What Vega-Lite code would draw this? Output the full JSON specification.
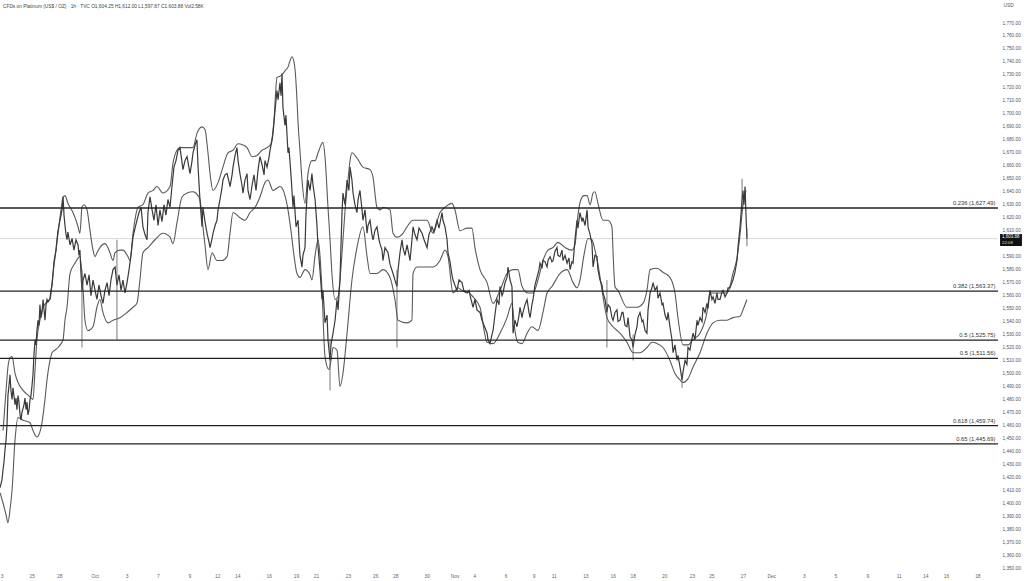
{
"$schema":"https://vega.github.io/schema/vega-lite/v6.json",
"width":998,"height":570,
"autosize":{"type":"none"},
"padding":{"left":0,"top":0,"right":26,"bottom":11},
"background":"#ffffff",
"config":{"view":{"stroke":null},"font":"Liberation Sans","axis":{"labelOverlap":false,"labelSeparation":0}},
"title":{"text":"CFDs on Platinum (US$ / OZ) · 1h · TVC  O1,604.25  H1,612.00  L1,597.87  C1,603.88  Vol2.58K","anchor":"start","frame":"group","orient":"top","offset":-9,"dx":3,"fontSize":4.8,"fontWeight":"normal","color":"#444","font":"Liberation Sans"},
"datasets":{
"price":[
{"d":-5.90,"v":1412},{"d":-5.78,"v":1418},{"d":-5.71,"v":1426},{"d":-5.65,"v":1432},{"d":-5.59,"v":1441},{"d":-5.52,"v":1449},{"d":-5.46,"v":1460},{"d":-5.40,"v":1483},{"d":-5.33,"v":1491},{"d":-5.27,"v":1499},{"d":-5.21,"v":1487},{"d":-5.14,"v":1480},{"d":-5.08,"v":1489},{"d":-5.02,"v":1483},{"d":-4.95,"v":1476},{"d":-4.89,"v":1481},{"d":-4.83,"v":1472},{"d":-4.76,"v":1483},{"d":-4.70,"v":1478},{"d":-4.63,"v":1468},{"d":-4.57,"v":1464},{"d":-4.51,"v":1470},{"d":-4.38,"v":1476},{"d":-4.32,"v":1481},{"d":-4.25,"v":1472},{"d":-4.19,"v":1478},{"d":-4.13,"v":1468},{"d":-4.06,"v":1472},{"d":-4.00,"v":1480},{"d":-3.94,"v":1483},{"d":-3.87,"v":1491},{"d":-3.81,"v":1499},{"d":-3.75,"v":1514},{"d":-3.68,"v":1526},{"d":-3.62,"v":1522},{"d":-3.56,"v":1533},{"d":-3.49,"v":1541},{"d":-3.43,"v":1537},{"d":-3.37,"v":1553},{"d":-3.30,"v":1543},{"d":-3.24,"v":1547},{"d":-3.17,"v":1557},{"d":-3.11,"v":1549},{"d":-3.05,"v":1541},{"d":-2.98,"v":1553},{"d":-2.92,"v":1557},{"d":-2.86,"v":1555},{"d":-2.73,"v":1558},{"d":-2.67,"v":1564},{"d":-2.60,"v":1568},{"d":-2.54,"v":1576},{"d":-2.48,"v":1586},{"d":-2.41,"v":1591},{"d":-2.35,"v":1595},{"d":-2.29,"v":1603},{"d":-2.22,"v":1610},{"d":-2.16,"v":1614},{"d":-2.10,"v":1618},{"d":-2.03,"v":1622},{"d":-1.97,"v":1626},{"d":-1.90,"v":1636},{"d":-1.84,"v":1622},{"d":-1.78,"v":1614},{"d":-1.71,"v":1607},{"d":-1.65,"v":1603},{"d":-1.59,"v":1609},{"d":-1.46,"v":1599},{"d":-1.33,"v":1604},{"d":-1.21,"v":1595},{"d":-1.08,"v":1603},{"d":-0.95,"v":1599},{"d":-0.89,"v":1591},{"d":-0.83,"v":1595},{"d":-0.76,"v":1576},{"d":-0.70,"v":1564},{"d":-0.63,"v":1572},
{"d":-0.51,"v":1577},{"d":-0.38,"v":1568},{"d":-0.25,"v":1576},{"d":-0.13,"v":1560},{"d":0.00,"v":1572},{"d":0.13,"v":1564},{"d":0.25,"v":1557},{"d":0.38,"v":1568},{"d":0.51,"v":1560},{"d":0.63,"v":1554},{"d":0.76,"v":1564},{"d":0.89,"v":1570},{"d":1.02,"v":1560},{"d":1.14,"v":1572},{"d":1.27,"v":1580},{"d":1.40,"v":1582},{"d":1.52,"v":1568},{"d":1.65,"v":1576},{"d":1.78,"v":1564},{"d":1.90,"v":1572},{"d":2.03,"v":1562},{"d":2.16,"v":1570},{"d":2.29,"v":1580},{"d":2.41,"v":1591},{"d":2.54,"v":1605},{"d":2.67,"v":1612},{"d":2.79,"v":1618},{"d":2.92,"v":1624},{"d":3.05,"v":1628},{"d":3.17,"v":1613},{"d":3.30,"v":1607},{"d":3.43,"v":1603},{"d":3.49,"v":1624},{"d":3.62,"v":1636},{"d":3.75,"v":1626},{"d":3.87,"v":1618},{"d":4.00,"v":1630},{"d":4.13,"v":1614},{"d":4.25,"v":1626},{"d":4.38,"v":1617},{"d":4.51,"v":1630},{"d":4.63,"v":1622},{"d":4.76,"v":1634},{"d":4.89,"v":1628},{"d":5.02,"v":1645},{"d":5.14,"v":1659},{"d":5.27,"v":1664},{"d":5.40,"v":1672},{"d":5.52,"v":1674},{"d":5.65,"v":1663},{"d":5.71,"v":1657},{"d":5.84,"v":1664},{"d":5.97,"v":1667},{"d":6.10,"v":1658},{"d":6.16,"v":1654},{"d":6.29,"v":1664},{"d":6.35,"v":1670},{"d":6.48,"v":1676},{"d":6.60,"v":1680},{"d":6.67,"v":1659},{"d":6.79,"v":1634},{"d":6.92,"v":1613},{"d":6.98,"v":1628},{"d":7.11,"v":1617},{"d":7.24,"v":1608},{"d":7.37,"v":1601},{"d":7.43,"v":1597},{"d":7.56,"v":1604},{"d":7.62,"v":1608},{"d":7.75,"v":1614},{"d":7.87,"v":1618},{"d":7.94,"v":1626},{"d":8.06,"v":1634},{"d":8.19,"v":1643},{"d":8.25,"v":1649},{"d":8.38,"v":1653},{"d":8.51,"v":1654},{"d":8.63,"v":1648},{"d":8.70,"v":1644},{"d":8.83,"v":1653},{"d":8.89,"v":1659},{"d":9.02,"v":1668},{"d":9.14,"v":1674},{"d":9.21,"v":1664},{"d":9.33,"v":1654},{"d":9.46,"v":1645},{"d":9.52,"v":1639},{"d":9.65,"v":1649},{"d":9.78,"v":1654},{"d":9.84,"v":1641},{"d":9.97,"v":1634},
{"d":10.10,"v":1645},{"d":10.22,"v":1653},{"d":10.35,"v":1641},{"d":10.48,"v":1657},{"d":10.60,"v":1667},{"d":10.73,"v":1661},{"d":10.86,"v":1653},{"d":10.92,"v":1664},{"d":11.05,"v":1659},{"d":11.17,"v":1666},{"d":11.24,"v":1672},{"d":11.37,"v":1680},{"d":11.43,"v":1685},{"d":11.56,"v":1703},{"d":11.68,"v":1718},{"d":11.75,"v":1711},{"d":11.87,"v":1724},{"d":11.94,"v":1714},{"d":12.00,"v":1731},{"d":12.06,"v":1705},{"d":12.19,"v":1691},{"d":12.25,"v":1699},{"d":12.38,"v":1670},{"d":12.44,"v":1674},{"d":12.57,"v":1653},{"d":12.70,"v":1628},{"d":12.76,"v":1637},{"d":12.89,"v":1613},{"d":13.02,"v":1618},{"d":13.08,"v":1603},{"d":13.14,"v":1591},{"d":13.27,"v":1582},{"d":13.33,"v":1591},{"d":13.46,"v":1597},{"d":13.52,"v":1622},{"d":13.65,"v":1649},{"d":13.78,"v":1641},{"d":13.90,"v":1654},{"d":13.97,"v":1645},{"d":14.10,"v":1634},{"d":14.22,"v":1614},{"d":14.29,"v":1597},{"d":14.41,"v":1580},{"d":14.54,"v":1557},{"d":14.60,"v":1564},{"d":14.73,"v":1539},{"d":14.86,"v":1545},{"d":14.92,"v":1526},{"d":15.05,"v":1510},{"d":15.11,"v":1522},{"d":15.24,"v":1531},{"d":15.37,"v":1541},{"d":15.49,"v":1557},{"d":15.56,"v":1549},{"d":15.68,"v":1572},{"d":15.81,"v":1624},{"d":15.87,"v":1639},{"d":16.00,"v":1630},{"d":16.13,"v":1649},{"d":16.25,"v":1641},{"d":16.32,"v":1659},{"d":16.44,"v":1649},{"d":16.51,"v":1639},{"d":16.63,"v":1630},{"d":16.76,"v":1624},{"d":16.83,"v":1634},{"d":16.95,"v":1641},{"d":17.08,"v":1626},{"d":17.14,"v":1618},{"d":17.27,"v":1626},{"d":17.40,"v":1608},{"d":17.46,"v":1614},{"d":17.59,"v":1618},{"d":17.71,"v":1607},{"d":17.78,"v":1603},{"d":17.90,"v":1610},{"d":18.03,"v":1613},{"d":18.16,"v":1603},{"d":18.22,"v":1600},{"d":18.35,"v":1595},{"d":18.41,"v":1587},{"d":18.54,"v":1597},{"d":18.73,"v":1593},{"d":18.86,"v":1584},{"d":19.05,"v":1577},{"d":19.17,"v":1572},{"d":19.30,"v":1567},{"d":19.37,"v":1580},{"d":19.49,"v":1593},{"d":19.62,"v":1603},{"d":19.68,"v":1597},{"d":19.81,"v":1591},{"d":19.94,"v":1599},
{"d":20.13,"v":1587},{"d":20.25,"v":1603},{"d":20.32,"v":1613},{"d":20.44,"v":1607},{"d":20.57,"v":1603},{"d":20.70,"v":1612},{"d":20.89,"v":1608},{"d":21.02,"v":1603},{"d":21.21,"v":1597},{"d":21.33,"v":1607},{"d":21.52,"v":1613},{"d":21.65,"v":1609},{"d":21.84,"v":1618},{"d":21.97,"v":1612},{"d":22.16,"v":1624},{"d":22.22,"v":1618},{"d":22.35,"v":1613},{"d":22.48,"v":1603},{"d":22.54,"v":1593},{"d":22.67,"v":1586},{"d":22.79,"v":1576},{"d":22.86,"v":1572},{"d":22.98,"v":1568},{"d":23.11,"v":1564},{"d":23.24,"v":1572},{"d":23.43,"v":1570},{"d":23.56,"v":1563},{"d":23.75,"v":1562},{"d":23.87,"v":1564},{"d":24.00,"v":1557},{"d":24.13,"v":1551},{"d":24.25,"v":1557},{"d":24.38,"v":1549},{"d":24.57,"v":1547},{"d":24.70,"v":1541},{"d":24.83,"v":1537},{"d":25.02,"v":1531},{"d":25.08,"v":1526},{"d":25.21,"v":1523},{"d":25.33,"v":1530},{"d":25.40,"v":1533},{"d":25.52,"v":1545},{"d":25.65,"v":1557},{"d":25.78,"v":1553},{"d":25.84,"v":1567},{"d":25.97,"v":1560},{"d":26.03,"v":1562},{"d":26.16,"v":1570},{"d":26.29,"v":1574},{"d":26.35,"v":1582},{"d":26.48,"v":1572},{"d":26.60,"v":1567},{"d":26.67,"v":1531},{"d":26.79,"v":1541},{"d":26.92,"v":1536},{"d":27.05,"v":1545},{"d":27.11,"v":1551},{"d":27.24,"v":1543},{"d":27.30,"v":1547},{"d":27.43,"v":1553},{"d":27.56,"v":1557},{"d":27.68,"v":1547},{"d":27.75,"v":1543},{"d":27.87,"v":1553},{"d":27.94,"v":1557},{"d":28.06,"v":1568},{"d":28.19,"v":1574},{"d":28.32,"v":1580},{"d":28.38,"v":1585},{"d":28.51,"v":1581},{"d":28.57,"v":1587},{"d":28.70,"v":1586},{"d":28.83,"v":1582},{"d":28.89,"v":1587},{"d":29.02,"v":1590},{"d":29.14,"v":1586},{"d":29.21,"v":1587},{"d":29.33,"v":1594},{"d":29.46,"v":1597},{"d":29.52,"v":1591},{"d":29.65,"v":1590},{"d":29.78,"v":1595},{"d":29.84,"v":1587},{"d":29.97,"v":1591},
{"d":30.10,"v":1585},{"d":30.22,"v":1589},{"d":30.29,"v":1580},{"d":30.41,"v":1586},{"d":30.48,"v":1585},{"d":30.60,"v":1603},{"d":30.73,"v":1618},{"d":30.79,"v":1612},{"d":30.92,"v":1624},{"d":31.05,"v":1617},{"d":31.11,"v":1620},{"d":31.24,"v":1614},{"d":31.37,"v":1626},{"d":31.43,"v":1613},{"d":31.56,"v":1607},{"d":31.68,"v":1600},{"d":31.75,"v":1582},{"d":31.87,"v":1591},{"d":32.00,"v":1590},{"d":32.06,"v":1580},{"d":32.19,"v":1572},{"d":32.32,"v":1568},{"d":32.38,"v":1562},{"d":32.51,"v":1557},{"d":32.63,"v":1547},{"d":32.70,"v":1553},{"d":32.83,"v":1551},{"d":32.95,"v":1543},{"d":33.02,"v":1541},{"d":33.14,"v":1547},{"d":33.27,"v":1549},{"d":33.33,"v":1540},{"d":33.46,"v":1541},{"d":33.59,"v":1547},{"d":33.65,"v":1547},{"d":33.78,"v":1537},{"d":33.90,"v":1536},{"d":33.97,"v":1543},{"d":34.10,"v":1528},{"d":34.22,"v":1526},{"d":34.29,"v":1520},{"d":34.41,"v":1530},{"d":34.54,"v":1536},{"d":34.60,"v":1543},{"d":34.73,"v":1547},{"d":34.86,"v":1540},{"d":34.92,"v":1541},{"d":35.05,"v":1533},{"d":35.17,"v":1531},{"d":35.24,"v":1549},{"d":35.37,"v":1562},{"d":35.49,"v":1566},{"d":35.56,"v":1570},{"d":35.68,"v":1564},{"d":35.81,"v":1567},{"d":35.87,"v":1558},{"d":36.00,"v":1562},{"d":36.13,"v":1553},{"d":36.19,"v":1554},{"d":36.32,"v":1545},{"d":36.44,"v":1541},{"d":36.51,"v":1547},{"d":36.63,"v":1536},{"d":36.76,"v":1526},{"d":36.83,"v":1516},{"d":36.95,"v":1522},{"d":37.08,"v":1510},{"d":37.14,"v":1514},{"d":37.27,"v":1505},{"d":37.40,"v":1495},{"d":37.46,"v":1501},{"d":37.59,"v":1510},{"d":37.71,"v":1507},{"d":37.78,"v":1520},{"d":37.90,"v":1518},{"d":38.03,"v":1527},{"d":38.10,"v":1531},{"d":38.22,"v":1526},{"d":38.35,"v":1541},{"d":38.41,"v":1537},{"d":38.54,"v":1543},{"d":38.67,"v":1540},{"d":38.73,"v":1551},{"d":38.86,"v":1547},{"d":38.98,"v":1554},{"d":39.05,"v":1550},{"d":39.17,"v":1564},{"d":39.30,"v":1557},{"d":39.37,"v":1559},{"d":39.49,"v":1554},{"d":39.62,"v":1562},{"d":39.68,"v":1557},{"d":39.81,"v":1557},{"d":39.94,"v":1563},{"d":40.00,"v":1564},{"d":40.13,"v":1559},{"d":40.25,"v":1562},{"d":40.32,"v":1566},{"d":40.44,"v":1566},{"d":40.57,"v":1570},{"d":40.63,"v":1572},{"d":40.76,"v":1578},{"d":40.89,"v":1587},{"d":40.95,"v":1597},{"d":41.08,"v":1613},{"d":41.14,"v":1622},{"d":41.21,"v":1634},{"d":41.27,"v":1641},{"d":41.33,"v":1630},{"d":41.40,"v":1644},{"d":41.46,"v":1622},{"d":41.52,"v":1603.88}
],
"bands":[
{"s":"u","d":-5.71,"v":1456},{"s":"u","d":-5.52,"v":1487},{"s":"u","d":-5.40,"v":1505},{"s":"u","d":-5.27,"v":1512},{"s":"u","d":-5.14,"v":1513},{"s":"u","d":-4.95,"v":1500},{"s":"u","d":-4.76,"v":1493},{"s":"u","d":-4.44,"v":1487},{"s":"u","d":-4.00,"v":1482},{"s":"u","d":-3.81,"v":1480},{"s":"u","d":-3.68,"v":1503},{"s":"u","d":-3.56,"v":1526},{"s":"u","d":-3.37,"v":1541},{"s":"u","d":-3.17,"v":1551},{"s":"u","d":-2.92,"v":1555},{"s":"u","d":-2.73,"v":1557},{"s":"u","d":-2.54,"v":1577},{"s":"u","d":-2.35,"v":1595},{"s":"u","d":-2.22,"v":1608},{"s":"u","d":-2.03,"v":1626},{"s":"u","d":-1.90,"v":1636},{"s":"u","d":-1.78,"v":1637},{"s":"u","d":-1.59,"v":1631},{"s":"u","d":-1.27,"v":1624},{"s":"u","d":-0.95,"v":1613},{"s":"u","d":-0.83,"v":1608},{"s":"u","d":-0.70,"v":1628},{"s":"u","d":-0.57,"v":1630},{"s":"u","d":-0.38,"v":1626},{"s":"u","d":-0.19,"v":1610},{"s":"u","d":0.00,"v":1595},{"s":"u","d":0.13,"v":1590},{"s":"u","d":0.25,"v":1593},{"s":"u","d":0.44,"v":1597},{"s":"u","d":0.76,"v":1600},{"s":"u","d":1.08,"v":1593},{"s":"u","d":1.27,"v":1587},{"s":"u","d":1.40,"v":1593},{"s":"u","d":1.71,"v":1595},{"s":"u","d":1.90,"v":1595},{"s":"u","d":2.22,"v":1590},{"s":"u","d":2.35,"v":1587},{"s":"u","d":2.54,"v":1608},{"s":"u","d":2.86,"v":1628},{"s":"u","d":3.17,"v":1630},{"s":"u","d":3.49,"v":1639},{"s":"u","d":3.81,"v":1641},{"s":"u","d":4.06,"v":1644},{"s":"u","d":4.44,"v":1639},{"s":"u","d":4.89,"v":1644},{"s":"u","d":5.08,"v":1662},{"s":"u","d":5.33,"v":1672},{"s":"u","d":5.52,"v":1674},{"s":"u","d":5.97,"v":1674},{"s":"u","d":6.35,"v":1674},{"s":"u","d":6.60,"v":1685},{"s":"u","d":6.92,"v":1690},{"s":"u","d":7.11,"v":1688},{"s":"u","d":7.30,"v":1670},{"s":"u","d":7.43,"v":1654},{"s":"u","d":7.62,"v":1641},{"s":"u","d":7.94,"v":1647},{"s":"u","d":8.25,"v":1659},{"s":"u","d":8.57,"v":1670},{"s":"u","d":8.89,"v":1672},{"s":"u","d":9.21,"v":1677},{"s":"u","d":9.52,"v":1676},{"s":"u","d":9.78,"v":1674},{"s":"u","d":10.10,"v":1667},{"s":"u","d":10.41,"v":1668},{"s":"u","d":10.73,"v":1672},{"s":"u","d":11.05,"v":1674},{"s":"u","d":11.30,"v":1677},{"s":"u","d":11.49,"v":1695},{"s":"u","d":11.68,"v":1728},{"s":"u","d":11.87,"v":1729},{"s":"u","d":12.06,"v":1731},{"s":"u","d":12.25,"v":1734},{"s":"u","d":12.38,"v":1736},{"s":"u","d":12.51,"v":1741},{"s":"u","d":12.63,"v":1744},{"s":"u","d":12.76,"v":1740},{"s":"u","d":12.83,"v":1734},{"s":"u","d":12.95,"v":1711},{"s":"u","d":13.02,"v":1693},{"s":"u","d":13.14,"v":1672},{"s":"u","d":13.27,"v":1649},{"s":"u","d":13.46,"v":1631},{"s":"u","d":13.65,"v":1654},{"s":"u","d":13.90,"v":1664},{"s":"u","d":14.10,"v":1664},{"s":"u","d":14.29,"v":1670},{"s":"u","d":14.48,"v":1676},{"s":"u","d":14.60,"v":1678},{"s":"u","d":14.73,"v":1667},{"s":"u","d":14.92,"v":1628},{"s":"u","d":15.05,"v":1603},{"s":"u","d":15.17,"v":1577},{"s":"u","d":15.37,"v":1557},{"s":"u","d":15.56,"v":1559},{"s":"u","d":15.68,"v":1572},{"s":"u","d":15.87,"v":1603},{"s":"u","d":16.06,"v":1634},{"s":"u","d":16.19,"v":1649},{"s":"u","d":16.32,"v":1664},{"s":"u","d":16.44,"v":1670},{"s":"u","d":16.76,"v":1666},{"s":"u","d":17.14,"v":1659},{"s":"u","d":17.59,"v":1657},{"s":"u","d":17.78,"v":1651},{"s":"u","d":18.03,"v":1628},{"s":"u","d":18.22,"v":1626},{"s":"u","d":18.41,"v":1628},{"s":"u","d":18.86,"v":1626},{"s":"u","d":19.05,"v":1608},{"s":"u","d":19.30,"v":1605},{"s":"u","d":19.68,"v":1608},{"s":"u","d":19.94,"v":1613},{"s":"u","d":20.32,"v":1618},{"s":"u","d":21.21,"v":1618},{"s":"u","d":21.59,"v":1608},{"s":"u","d":22.03,"v":1624},{"s":"u","d":22.35,"v":1628},{"s":"u","d":22.79,"v":1631},{"s":"u","d":22.98,"v":1626},{"s":"u","d":23.30,"v":1610},{"s":"u","d":23.75,"v":1612},{"s":"u","d":24.06,"v":1612},{"s":"u","d":24.25,"v":1597},{"s":"u","d":24.57,"v":1580},{"s":"u","d":25.02,"v":1570},{"s":"u","d":25.40,"v":1554},{"s":"u","d":25.84,"v":1564},{"s":"u","d":26.29,"v":1577},{"s":"u","d":26.67,"v":1580},{"s":"u","d":26.98,"v":1580},{"s":"u","d":27.24,"v":1567},{"s":"u","d":27.62,"v":1562},{"s":"u","d":27.94,"v":1562},{"s":"u","d":28.25,"v":1572},{"s":"u","d":28.57,"v":1587},{"s":"u","d":28.89,"v":1595},{"s":"u","d":29.21,"v":1597},{"s":"u","d":29.52,"v":1601},{"s":"u","d":29.97,"v":1597},{"s":"u","d":30.41,"v":1595},{"s":"u","d":30.60,"v":1599},{"s":"u","d":30.79,"v":1622},{"s":"u","d":30.98,"v":1634},{"s":"u","d":31.17,"v":1637},{"s":"u","d":31.37,"v":1637},{"s":"u","d":31.56,"v":1630},{"s":"u","d":31.75,"v":1639},{"s":"u","d":31.87,"v":1640},{"s":"u","d":32.06,"v":1631},{"s":"u","d":32.38,"v":1618},{"s":"u","d":32.70,"v":1618},{"s":"u","d":32.95,"v":1613},{"s":"u","d":33.02,"v":1593},{"s":"u","d":33.14,"v":1567},{"s":"u","d":33.33,"v":1564},{"s":"u","d":33.90,"v":1551},{"s":"u","d":34.54,"v":1551},{"s":"u","d":34.92,"v":1554},{"s":"u","d":35.17,"v":1564},{"s":"u","d":35.37,"v":1580},{"s":"u","d":35.81,"v":1581},{"s":"u","d":36.19,"v":1578},{"s":"u","d":36.63,"v":1574},{"s":"u","d":36.95,"v":1562},{"s":"u","d":37.14,"v":1543},{"s":"u","d":37.46,"v":1522},{"s":"u","d":37.78,"v":1522},{"s":"u","d":38.10,"v":1526},{"s":"u","d":38.54,"v":1531},{"s":"u","d":38.98,"v":1547},{"s":"u","d":39.17,"v":1562},{"s":"u","d":39.81,"v":1562},{"s":"u","d":40.25,"v":1562},{"s":"u","d":40.44,"v":1567},{"s":"u","d":40.63,"v":1577},{"s":"u","d":40.89,"v":1589},{"s":"u","d":41.08,"v":1607},{"s":"u","d":41.27,"v":1630},{"s":"u","d":41.46,"v":1641},
{"s":"l","d":-5.90,"v":1408},{"s":"l","d":-5.71,"v":1400},{"s":"l","d":-5.52,"v":1391},{"s":"l","d":-5.40,"v":1385},{"s":"l","d":-5.27,"v":1395},{"s":"l","d":-5.14,"v":1410},{"s":"l","d":-4.95,"v":1449},{"s":"l","d":-4.76,"v":1466},{"s":"l","d":-4.44,"v":1464},{"s":"l","d":-4.00,"v":1462},{"s":"l","d":-3.81,"v":1456},{"s":"l","d":-3.56,"v":1451},{"s":"l","d":-3.37,"v":1455},{"s":"l","d":-3.24,"v":1462},{"s":"l","d":-3.05,"v":1480},{"s":"l","d":-2.92,"v":1495},{"s":"l","d":-2.73,"v":1510},{"s":"l","d":-2.60,"v":1516},{"s":"l","d":-2.41,"v":1518},{"s":"l","d":-2.22,"v":1520},{"s":"l","d":-2.03,"v":1523},{"s":"l","d":-1.90,"v":1526},{"s":"l","d":-1.78,"v":1541},{"s":"l","d":-1.65,"v":1551},{"s":"l","d":-1.46,"v":1577},{"s":"l","d":-1.14,"v":1585},{"s":"l","d":-0.83,"v":1590},{"s":"l","d":-0.63,"v":1564},{"s":"l","d":-0.51,"v":1541},{"s":"l","d":-0.32,"v":1533},{"s":"l","d":0.00,"v":1536},{"s":"l","d":0.25,"v":1551},{"s":"l","d":0.44,"v":1557},{"s":"l","d":0.63,"v":1547},{"s":"l","d":0.95,"v":1539},{"s":"l","d":1.27,"v":1541},{"s":"l","d":1.71,"v":1543},{"s":"l","d":2.16,"v":1547},{"s":"l","d":2.54,"v":1551},{"s":"l","d":2.79,"v":1554},{"s":"l","d":2.98,"v":1572},{"s":"l","d":3.17,"v":1593},{"s":"l","d":3.49,"v":1597},{"s":"l","d":3.94,"v":1603},{"s":"l","d":4.44,"v":1608},{"s":"l","d":4.89,"v":1605},{"s":"l","d":5.08,"v":1600},{"s":"l","d":5.33,"v":1616},{"s":"l","d":5.65,"v":1636},{"s":"l","d":5.97,"v":1639},{"s":"l","d":6.35,"v":1640},{"s":"l","d":6.67,"v":1637},{"s":"l","d":6.79,"v":1634},{"s":"l","d":6.98,"v":1613},{"s":"l","d":7.11,"v":1599},{"s":"l","d":7.30,"v":1580},{"s":"l","d":7.56,"v":1593},{"s":"l","d":7.87,"v":1587},{"s":"l","d":8.19,"v":1587},{"s":"l","d":8.51,"v":1590},{"s":"l","d":8.70,"v":1608},{"s":"l","d":8.89,"v":1624},{"s":"l","d":9.33,"v":1620},{"s":"l","d":9.65,"v":1618},{"s":"l","d":9.97,"v":1624},{"s":"l","d":10.29,"v":1628},{"s":"l","d":10.60,"v":1636},{"s":"l","d":10.92,"v":1647},{"s":"l","d":11.11,"v":1649},{"s":"l","d":11.43,"v":1641},{"s":"l","d":11.87,"v":1644},{"s":"l","d":12.19,"v":1637},{"s":"l","d":12.38,"v":1626},{"s":"l","d":12.57,"v":1610},{"s":"l","d":12.76,"v":1591},{"s":"l","d":12.95,"v":1577},{"s":"l","d":13.14,"v":1574},{"s":"l","d":13.46,"v":1580},{"s":"l","d":13.78,"v":1576},{"s":"l","d":13.90,"v":1572},{"s":"l","d":14.10,"v":1591},{"s":"l","d":14.29,"v":1603},{"s":"l","d":14.41,"v":1591},{"s":"l","d":14.54,"v":1564},{"s":"l","d":14.73,"v":1513},{"s":"l","d":14.98,"v":1503},{"s":"l","d":15.11,"v":1510},{"s":"l","d":15.24,"v":1520},{"s":"l","d":15.49,"v":1518},{"s":"l","d":15.68,"v":1490},{"s":"l","d":15.87,"v":1500},{"s":"l","d":16.13,"v":1531},{"s":"l","d":16.44,"v":1572},{"s":"l","d":16.76,"v":1597},{"s":"l","d":17.14,"v":1613},{"s":"l","d":17.40,"v":1590},{"s":"l","d":17.59,"v":1577},{"s":"l","d":18.03,"v":1577},{"s":"l","d":18.41,"v":1580},{"s":"l","d":18.86,"v":1574},{"s":"l","d":19.17,"v":1557},{"s":"l","d":19.37,"v":1541},{"s":"l","d":19.94,"v":1539},{"s":"l","d":20.25,"v":1541},{"s":"l","d":20.32,"v":1577},{"s":"l","d":20.57,"v":1582},{"s":"l","d":21.21,"v":1582},{"s":"l","d":21.59,"v":1582},{"s":"l","d":22.03,"v":1587},{"s":"l","d":22.35,"v":1595},{"s":"l","d":22.54,"v":1590},{"s":"l","d":22.86,"v":1562},{"s":"l","d":23.17,"v":1566},{"s":"l","d":23.43,"v":1564},{"s":"l","d":23.81,"v":1563},{"s":"l","d":24.13,"v":1559},{"s":"l","d":24.57,"v":1551},{"s":"l","d":25.02,"v":1524},{"s":"l","d":25.40,"v":1523},{"s":"l","d":25.84,"v":1531},{"s":"l","d":26.29,"v":1543},{"s":"l","d":26.60,"v":1554},{"s":"l","d":26.79,"v":1533},{"s":"l","d":26.98,"v":1524},{"s":"l","d":27.24,"v":1523},{"s":"l","d":27.56,"v":1531},{"s":"l","d":27.87,"v":1536},{"s":"l","d":28.25,"v":1533},{"s":"l","d":28.57,"v":1547},{"s":"l","d":28.83,"v":1562},{"s":"l","d":29.14,"v":1567},{"s":"l","d":29.65,"v":1577},{"s":"l","d":30.10,"v":1580},{"s":"l","d":30.48,"v":1570},{"s":"l","d":30.73,"v":1566},{"s":"l","d":30.92,"v":1572},{"s":"l","d":31.17,"v":1591},{"s":"l","d":31.43,"v":1604},{"s":"l","d":31.68,"v":1603},{"s":"l","d":31.87,"v":1595},{"s":"l","d":32.06,"v":1584},{"s":"l","d":32.32,"v":1564},{"s":"l","d":32.63,"v":1543},{"s":"l","d":33.02,"v":1536},{"s":"l","d":33.46,"v":1531},{"s":"l","d":33.90,"v":1524},{"s":"l","d":34.29,"v":1516},{"s":"l","d":34.73,"v":1516},{"s":"l","d":35.17,"v":1520},{"s":"l","d":35.49,"v":1524},{"s":"l","d":35.81,"v":1523},{"s":"l","d":36.19,"v":1520},{"s":"l","d":36.63,"v":1510},{"s":"l","d":36.95,"v":1500},{"s":"l","d":37.27,"v":1495},{"s":"l","d":37.46,"v":1493},{"s":"l","d":37.78,"v":1496},{"s":"l","d":38.10,"v":1505},{"s":"l","d":38.54,"v":1516},{"s":"l","d":38.98,"v":1531},{"s":"l","d":39.37,"v":1539},{"s":"l","d":39.81,"v":1541},{"s":"l","d":40.25,"v":1541},{"s":"l","d":40.63,"v":1543},{"s":"l","d":41.08,"v":1544},{"s":"l","d":41.27,"v":1549},{"s":"l","d":41.52,"v":1557}
],
"wicks":[
{"d":-0.70,"h":1580,"l":1520},{"d":1.52,"h":1603,"l":1526},{"d":19.30,"h":1580,"l":1520},{"d":15.05,"h":1526,"l":1487},{"d":41.21,"h":1650,"l":1625},{"d":32.63,"h":1572,"l":1520},{"d":34.29,"h":1530,"l":1510},{"d":37.40,"h":1500,"l":1489},{"d":41.52,"h":1612,"l":1598}
],
"fib":[
{"v":1627.49,"label":"0.236 (1,627.49)"},{"v":1563.37,"label":"0.382 (1,563.37)"},{"v":1525.75,"label":"0.5 (1,525.75)"},{"v":1511.56,"label":"0.5 (1,511.56)"},{"v":1459.74,"label":"0.618 (1,459.74)"},{"v":1445.69,"label":"0.65 (1,445.69)"}
],
"last":[{"v":1603.88,"price":"1,603.88","time":"22:08"}]
},
"layer":[
{"data":{"name":"last"},"mark":{"type":"rule","color":"#d8d8d8","strokeWidth":1},"encoding":{"y":{"field":"v","type":"quantitative","scale":{"domain":[1348.58,1787.72],"nice":false,"zero":false},
 "axis":{"orient":"right","tickCount":200,"values":[1350,1360,1370,1380,1390,1400,1410,1420,1430,1440,1450,1460,1470,1480,1490,1500,1510,1520,1530,1540,1550,1560,1570,1580,1590,1610,1620,1630,1640,1650,1660,1670,1680,1690,1700,1710,1720,1730,1740,1750,1760,1770],"format":",.2f","grid":false,"ticks":false,"domain":false,"labelFontSize":4.7,"labelColor":"#555","labelPadding":4,"labelFont":"Liberation Sans","labelBound":false,"labelOverlap":false,"labelSeparation":0,"title":"USD","titleAngle":0,"titleAlign":"left","titleBaseline":"top","titleX":5,"titleY":2,"titleFontSize":4.8,"titleFontWeight":"normal","titleColor":"#555","titleFont":"Liberation Sans"}}}},
{"data":{"name":"bands"},"mark":{"type":"line","color":"#5a5a5a","strokeWidth":1.1,"interpolate":"monotone"},
 "encoding":{"x":{"field":"d","type":"quantitative","scale":{"domain":[-5.905,57.46],"nice":false,"zero":false},
 "axis":{"orient":"bottom","tickCount":200,"values":[-5.80,-3.89,-2.14,0.11,2.14,4.11,6.11,7.89,9.16,11.16,12.89,14.16,16.19,17.92,19.19,21.19,22.96,24.19,26.20,27.98,29.25,31.26,33.00,34.27,36.27,38.03,39.26,41.27,43.07,45.14,47.13,49.16,51.16,52.84,54.16,56.15],
 "labelExpr":"['3','25','28','Oct','3','7','9','12','14','16','19','21','23','26','28','30','Nov','4','6','9','11','13','16','18','20','23','25','27','Dec','3','5','9','11','14','16','18'][indexof([-5.80,-3.89,-2.14,0.11,2.14,4.11,6.11,7.89,9.16,11.16,12.89,14.16,16.19,17.92,19.19,21.19,22.96,24.19,26.20,27.98,29.25,31.26,33.00,34.27,36.27,38.03,39.26,41.27,43.07,45.14,47.13,49.16,51.16,52.84,54.16,56.15], datum.value)]",
 "grid":false,"ticks":false,"domain":false,"labelFontSize":4.9,"labelColor":{"condition":{"test":"datum.label == 'Oct' || datum.label == 'Nov' || datum.label == 'Dec'","value":"#333"},"value":"#666"},"labelFontWeight":{"condition":{"test":"datum.label == 'Oct' || datum.label == 'Nov' || datum.label == 'Dec'","value":"bold"},"value":"normal"},"labelPadding":3,"labelFont":"Liberation Sans","labelBound":false,"labelOverlap":false,"labelSeparation":0,"labelFlush":false,"title":null}},
 "y":{"field":"v","type":"quantitative"},"detail":{"field":"s"}}},
{"data":{"name":"price"},"mark":{"type":"line","color":"#3a3a3a","strokeWidth":1.2},"encoding":{"x":{"field":"d","type":"quantitative"},"y":{"field":"v","type":"quantitative"}}},
{"data":{"name":"wicks"},"mark":{"type":"rule","color":"#555","strokeWidth":0.8},"encoding":{"x":{"field":"d","type":"quantitative"},"y":{"field":"h","type":"quantitative"},"y2":{"field":"l"}}},
{"data":{"name":"fib"},"mark":{"type":"rule","color":"#222","strokeWidth":1.3},"encoding":{"y":{"field":"v","type":"quantitative"}}},
{"data":{"name":"fib"},"mark":{"type":"text","align":"right","baseline":"bottom","dy":-2,"fontSize":5.8,"color":"#333","font":"Liberation Sans"},"encoding":{"x":{"datum":57.3},"y":{"field":"v","type":"quantitative"},"text":{"field":"label"}}},
{"data":{"name":"last"},"mark":{"type":"rect","color":"#111"},"encoding":{"x":{"datum":57.59},"x2":{"datum":58.98},"y":{"datum":1607.4},"y2":{"datum":1598.2}}},
{"data":{"name":"last"},"mark":{"type":"text","align":"left","baseline":"middle","fontSize":4.5,"color":"#fff","font":"Liberation Sans"},"encoding":{"x":{"datum":57.72},"y":{"datum":1605.0},"text":{"field":"price"}}},
{"data":{"name":"last"},"mark":{"type":"text","align":"left","baseline":"middle","fontSize":4.3,"color":"#ddd","font":"Liberation Sans"},"encoding":{"x":{"datum":57.72},"y":{"datum":1600.6},"text":{"field":"time"}}}
]
}
